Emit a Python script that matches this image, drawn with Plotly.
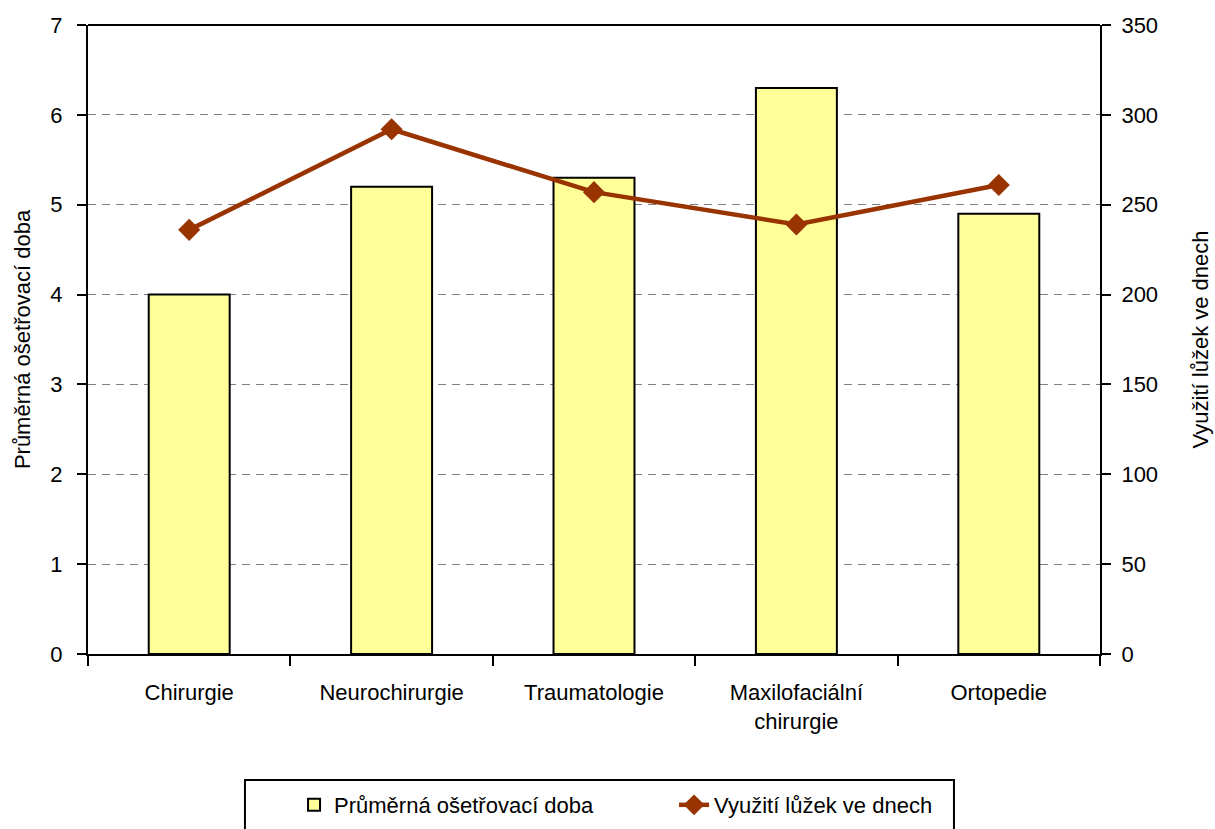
import plotly.graph_objects as go

categories = ["Chirurgie", "Neurochirurgie", "Traumatologie", "Maxilofaciální<br>chirurgie", "Ortopedie"]
avg_stay = [4.0, 5.2, 5.3, 6.3, 4.9]
bed_use = [236, 292, 257, 239, 261]

left_ticks = [0, 1, 2, 3, 4, 5, 6, 7]
right_ticks = [0, 50, 100, 150, 200, 250, 300, 350]

FONT = "Liberation Sans, Arial, sans-serif"
FS = 22

fig = go.Figure()
fig.add_trace(go.Bar(
    x=categories, y=avg_stay, name="Průměrná ošetřovací doba",
    marker=dict(color="#FFFF99", line=dict(color="black", width=2)),
    width=0.4, yaxis="y",
))
fig.add_trace(go.Scatter(
    x=categories, y=bed_use, name="Využití lůžek ve dnech",
    mode="lines+markers",
    line=dict(color="#993300", width=4.5),
    marker=dict(symbol="diamond", size=17, color="#993300"),
    yaxis="y2",
))

fig.update_layout(
    width=1215, height=829,
    margin=dict(l=88, r=115, t=25, b=175, autoexpand=False),
    paper_bgcolor="white", plot_bgcolor="white",
    font=dict(family=FONT, size=FS, color="black"),
    showlegend=True,
    legend=dict(
        orientation="h", x=0.2036, xanchor="left", y=-0.2067, yanchor="top",
        borderwidth=0, bgcolor="rgba(0,0,0,0)",
        font=dict(family=FONT, size=FS), entrywidth=335,
        traceorder="normal",
    ),
    xaxis=dict(
        type="category", tickson="boundaries", ticks="outside", ticklen=10,
        tickwidth=2, tickcolor="black", showline=True, linecolor="black",
        linewidth=2, showgrid=False, mirror=False, automargin=False,
        ticklabelstandoff=18,
        tickfont=dict(family=FONT, size=FS),
    ),
    yaxis=dict(
        range=[0, 7], tickvals=left_ticks, ticks="outside", ticklen=9,
        tickwidth=2, tickcolor="black", showline=True, linecolor="black",
        linewidth=2, showgrid=True, gridcolor="#808080", griddash="8px,6px",
        gridwidth=1, zeroline=False, automargin=False,
        ticklabelstandoff=10,
        title=dict(text="Průměrná ošetřovací doba", font=dict(family=FONT, size=FS), standoff=14),
        tickfont=dict(family=FONT, size=FS),
    ),
    yaxis2=dict(
        range=[0, 350], tickvals=right_ticks, overlaying="y", side="right",
        ticks="outside", ticklen=9, tickwidth=2, tickcolor="black",
        showline=True, linecolor="black", linewidth=2, showgrid=False,
        zeroline=False, automargin=False, ticklabelstandoff=6,
        title=dict(text="Využití lůžek ve dnech", font=dict(family=FONT, size=FS), standoff=35),
        tickfont=dict(family=FONT, size=FS),
    ),
)
# top frame line of the plot area
fig.add_shape(type="line", xref="paper", yref="paper", x0=0, x1=1, y0=1, y1=1,
              line=dict(color="black", width=2))
# legend frame (bottom edge lies outside the picture, as in the original)
fig.add_shape(type="rect", xref="paper", yref="paper",
              x0=0.1551, x1=0.8557, y0=-0.2003, y1=-0.29,
              line=dict(color="black", width=2), fillcolor="rgba(0,0,0,0)", layer="below")

fig.write_html("out.html", config={"displayModeBar": False},
               post_script="document.body.style.margin='0';")
